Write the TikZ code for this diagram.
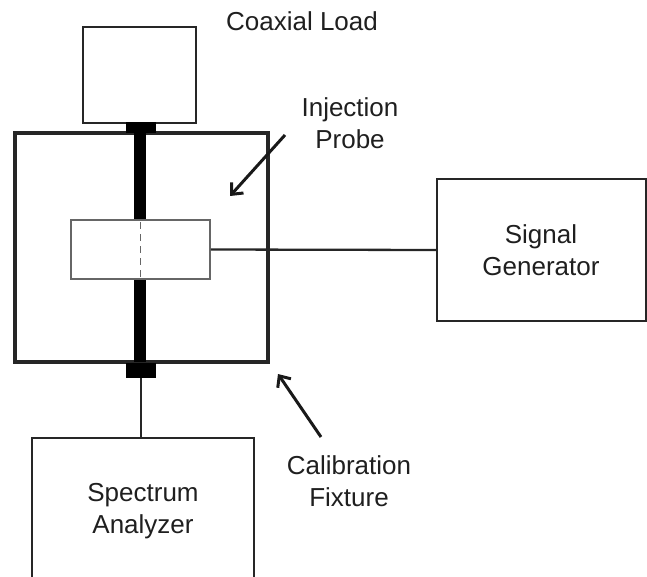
\documentclass[tikz,border=0pt]{standalone}
\usepackage{fontspec}
\setmainfont{Liberation Sans}
\usetikzlibrary{arrows.meta}
\begin{document}
\begin{tikzpicture}[x=1pt,y=-1pt,
  box/.style={draw=black!85, line width=2.3pt, inner sep=0pt},
  lbl/.style={font=\fontsize{26}{32}\selectfont, text=black!88, align=center, inner sep=0pt},
  callout/.style={draw=black!90, line width=3pt, -{Straight Barb[length=9pt,width=16pt,line width=3pt]}},
  blk/.style={fill=black, draw=none, inner sep=0pt}]
\useasboundingbox (0,0) rectangle (647,577);
% coaxial load
\node[box, minimum width=113pt, minimum height=96pt] (load) at (139.5,75) {};
% fixture
\node[box, line width=3.3pt, minimum width=253pt, minimum height=229pt] (fix) at (141.5,247.5) {};
% connector blocks and rod
\node[blk, minimum width=30pt, minimum height=11pt] (topc) at (140.5,128) {};
\node[blk, minimum width=30pt, minimum height=15pt] (botc) at (140.5,370.5) {};
\node[blk, minimum width=12pt, minimum height=87pt] (rodt) at (140,176.5) {};
\node[blk, minimum width=12pt, minimum height=83pt] (rodb) at (140,320.5) {};
% probe
\node[draw=black!60, fill=white, line width=1.5pt, minimum width=139pt, minimum height=59pt, inner sep=0pt] (probe) at (140.5,249.5) {};
\draw[black!60, line width=1.5pt, dash pattern=on 7pt off 5pt] (probe.north) ++(0,3) coordinate (dt) -- (probe.south -| dt);
% signal generator
\node[box, minimum width=209pt, minimum height=142pt] (sig) at (541.5,250) {};
\node[lbl] (siglbl) at (541,250) {Signal\\Generator};
% spectrum analyzer (extends below frame)
\node[box, minimum width=222pt, minimum height=180pt, anchor=north] (spec) at (143,437) {};
\node[lbl] (speclbl) at (143,511) {Spectrum\\Analyzer};
% connections
\draw[black!85, line width=2.3pt] (probe.east) -- (sig.west);
\draw[black!85, line width=2.3pt] (botc.south) ++(0.5,0) coordinate (bc) -- (spec.north -| bc);
% labels
\node[lbl] (loadlbl) at (302,21) {Coaxial Load};
\node[lbl] (injlbl) at (350,123) {Injection\\Probe};
\node[lbl] (callbl) at (349,481) {Calibration\\Fixture};
\coordinate (injs) at (285,135);
\coordinate (injt) at (230,196);
\coordinate (cals) at (321,437);
\coordinate (calt) at (278,374);
\draw[callout] (injs) -- (injt);
\draw[callout] (cals) -- (calt);
\end{tikzpicture}
\end{document}
